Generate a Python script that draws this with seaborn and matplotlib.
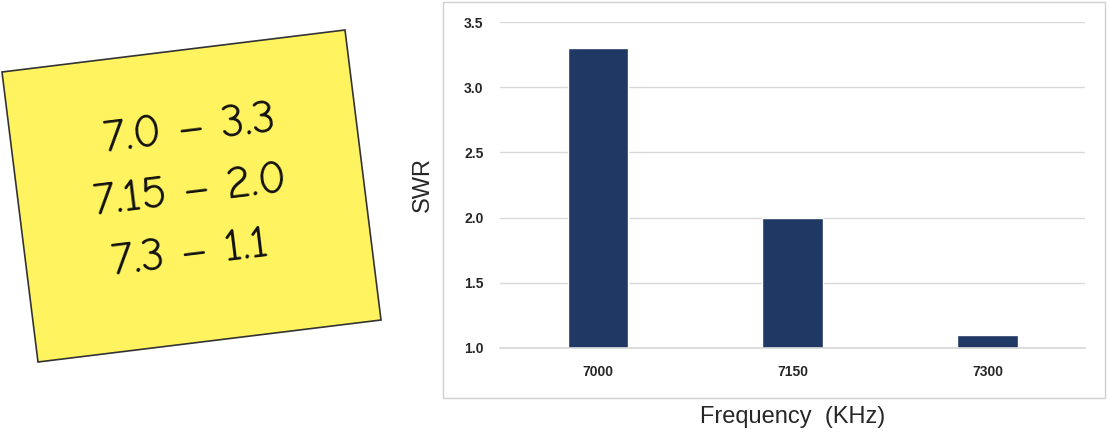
import matplotlib
matplotlib.use("Agg")
import matplotlib.pyplot as plt
import seaborn as sns
import pandas as pd
from matplotlib.patches import Polygon, Rectangle

categories = ["7000", "7150", "7300"]
swr = [3.3, 2.0, 1.1]
note_lines = ["7.0 – 3.3", "7.15 – 2.0", "7.3 – 1.1"]

sns.set_theme(style="white")
plt.rcParams['font.family'] = ['Liberation Sans', 'DejaVu Sans']
W, H = 1107, 442
fig = plt.figure(figsize=(W/100, H/100), dpi=100)

# background overlay axis in pixel coords
bg = fig.add_axes([0, 0, 1, 1])
bg.set_xlim(0, W); bg.set_ylim(H, 0); bg.axis("off")
bg.add_patch(Rectangle((443, 2), 662, 396, fill=False, edgecolor="#d0d0d0", lw=1))
bg.add_patch(Polygon([(2, 72), (345, 30), (381, 320), (38, 362)], closed=True,
                     facecolor="#FFF45F", edgecolor="#333333", lw=1.2))
for i, t in enumerate(note_lines):
    bg.text(190, 130 + i*62 - i*0, t, rotation=7, ha="center", va="center",
            fontsize=34, family=["Comic Neue", "Lato", "DejaVu Sans"], color="#111111")

ax = fig.add_axes([0.452, 0.213, 0.528, 0.737])
df = pd.DataFrame({"freq": categories, "swr": swr})
sns.barplot(data=df, x="freq", y="swr", color="#203864", saturation=1, width=0.31, ax=ax)
ax.set_ylim(1.0, 3.5)
ax.set_yticks([1.0, 1.5, 2.0, 2.5, 3.0, 3.5])
ax.set_yticklabels(["1.0", "1.5", "2.0", "2.5", "3.0", "3.5"])
ax.yaxis.grid(True, color="#d9d9d9", lw=1)
ax.set_axisbelow(True)
for s in ["top", "right", "left"]:
    ax.spines[s].set_visible(False)
ax.spines["bottom"].set_color("#d9d9d9")
ax.tick_params(axis="both", length=0, labelsize=10, pad=12)
for lbl in ax.get_xticklabels() + ax.get_yticklabels():
    lbl.set_fontweight("bold")
ax.set_ylabel("SWR", fontsize=17, labelpad=22)
ax.set_xlabel("Frequency  (KHz)", fontsize=17, labelpad=20)

fig.savefig("out.png", dpi=100)
